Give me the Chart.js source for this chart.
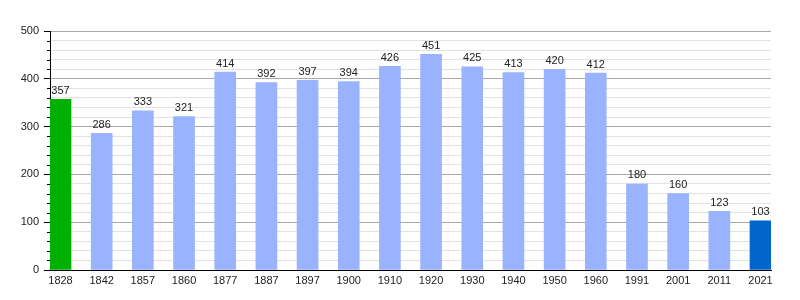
<!DOCTYPE html>
<html>
<head>
<meta charset="utf-8">
<script src="https://cdn.jsdelivr.net/npm/chart.js@4/dist/chart.umd.min.js"></script>
<style>
html,body{margin:0;padding:0;background:#fff;}
#wrap{width:800px;height:300px;}
</style>
</head>
<body>
<div id="wrap"><canvas id="c" width="800" height="300"></canvas></div>
<script>
const years = ["1828","1842","1857","1860","1877","1887","1897","1900","1910","1920","1930","1940","1950","1960","1991","2001","2011","2021"];
const population = [357,286,333,321,414,392,397,394,426,451,425,413,420,412,180,160,123,103];
const yTicks = [0,100,200,300,400,500];
const colorFirst = "#00b000";
const colorMid = "#99b3ff";
const colorLast = "#0066cc";

const barColors = population.map((v,i)=> i===0 ? colorFirst : (i===population.length-1 ? colorLast : colorMid));

const valueLabels = {
  id:'valueLabels',
  afterDatasetsDraw(chart){
    const ctx = chart.ctx;
    const meta = chart.getDatasetMeta(0);
    ctx.save();
    ctx.font = '11px "Liberation Sans", Arial, sans-serif';
    ctx.fillStyle = '#222';
    ctx.textAlign = 'center';
    ctx.textBaseline = 'bottom';
    meta.data.forEach((el,i)=>{
      ctx.fillText(String(population[i]), el.x, el.y - 3);
    });
    ctx.restore();
  }
};

const minorTicks = {
  id:'minorTicks',
  afterDraw(chart){
    const y = chart.scales.y;
    const ctx = chart.ctx;
    const left = chart.chartArea.left;
    ctx.save();
    ctx.strokeStyle = '#000';
    ctx.lineWidth = 1;
    for (let v = 0; v <= 500; v += 20) {
      if (v % 100 === 0) continue;
      const py = Math.round(y.getPixelForValue(v)) + 0.5;
      ctx.beginPath();
      ctx.moveTo(left - 3, py);
      ctx.lineTo(left, py);
      ctx.stroke();
    }
    ctx.restore();
  }
};

new Chart(document.getElementById('c'), {
  type:'bar',
  data:{
    datasets:[{
      data: population.map((v,i)=>({x:i,y:v})),
      backgroundColor: barColors,
      borderWidth:0,
      barThickness:21
    }]
  },
  options:{
    responsive:false,
    animation:false,
    layout:{padding:{top:31,right:29,left:0,bottom:0}},
    plugins:{legend:{display:false},tooltip:{enabled:false}},
    scales:{
      x:{
        type:'linear',
        offset:false,
        min:-0.255,
        max:17.255,
        afterBuildTicks(s){ s.ticks = years.map((_,i)=>({value:i})); },
        afterFit(s){ s.height = 30; },
        grid:{display:false, drawTicks:false, offset:false},
        border:{display:true,color:'#000',width:1},
        ticks:{
          autoSkip:false,
          maxRotation:0,
          padding:4,
          color:'#222',
          font:{family:'"Liberation Sans", Arial, sans-serif',size:11},
          callback:(v)=> years[v] ?? ''
        }
      },
      y:{
        min:0,
        max:500,
        afterBuildTicks(s){
          const t=[]; for(let v=0;v<=500;v+=20) t.push({value:v}); s.ticks=t;
        },
        afterFit(s){ s.width = 50; },
        border:{display:true,color:'#000',width:1},
        grid:{
          color:(c)=> (c.tick && c.tick.value % 100 === 0) ? '#a8a8a8' : '#e2e2e2',
          tickColor:(c)=> (c.tick && c.tick.value % 100 === 0) ? '#000' : 'rgba(0,0,0,0)',
          tickLength:6
        },
        ticks:{
          autoSkip:false,
          padding:5,
          color:'#222',
          font:{family:'"Liberation Sans", Arial, sans-serif',size:11},
          callback:(v)=> yTicks.includes(v) ? String(v) : ''
        }
      }
    }
  },
  plugins:[valueLabels, minorTicks]
});
</script>
</body>
</html>
